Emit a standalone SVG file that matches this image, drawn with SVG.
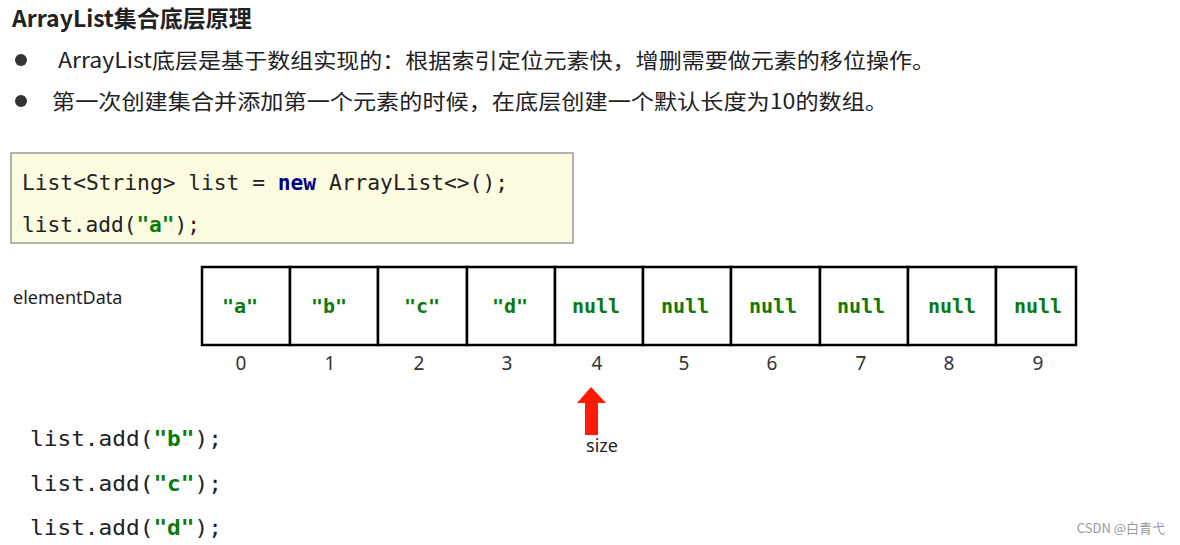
<svg xmlns="http://www.w3.org/2000/svg" width="1180" height="545" viewBox="0 0 1180 545">
<style>
.t{font-family:"Noto Sans CJK SC","Noto Sans",sans-serif;fill:#222}
.m{font-family:"DejaVu Sans Mono","Liberation Mono",monospace;font-size:21px;fill:#222}
.s{fill:#0a7a0a;font-weight:bold}
.k{fill:#000080;font-weight:bold}
.cell{fill:#fff;stroke:#000;stroke-width:2.5}
.v{font-family:"DejaVu Sans Mono","Liberation Mono",monospace;font-size:20px;font-weight:bold;fill:#0a7a0a;text-anchor:middle}
.i{font-family:"Noto Sans","DejaVu Sans",sans-serif;font-size:19px;fill:#333;text-anchor:middle}
</style>
<rect width="1180" height="545" fill="#fff"/>
<g id="title"><text class="t" x="12" y="27" font-size="23" font-weight="bold">ArrayList集合底层原理</text></g>
<g id="bullets">
<circle cx="21" cy="60" r="6" fill="#333"/>
<text class="t" x="58" y="68" font-size="21" textLength="877" lengthAdjust="spacingAndGlyphs">ArrayList底层是基于数组实现的：根据索引定位元素快，增删需要做元素的移位操作。</text>
<circle cx="21" cy="101" r="6" fill="#333"/>
<text class="t" x="52" y="109" font-size="21" textLength="836" lengthAdjust="spacingAndGlyphs">第一次创建集合并添加第一个元素的时候，在底层创建一个默认长度为10的数组。</text>
</g>
<g id="code">
<rect x="11" y="153" width="562" height="90" fill="#fdfbe0" stroke="#999" stroke-width="1.5"/>
<text class="m" x="22" y="190" textLength="486" lengthAdjust="spacingAndGlyphs">List&lt;String&gt; list = <tspan class="k">new</tspan> ArrayList&lt;&gt;();</text>
<text class="m" x="22" y="232" textLength="178" lengthAdjust="spacingAndGlyphs">list.add(<tspan class="s">"a"</tspan>);</text>
</g>
<g id="label"><text x="13" y="304" font-family="Noto Sans,sans-serif" font-size="18" fill="#222">elementData</text></g>
<g id="array">
<rect class="cell" x="202" y="267" width="88" height="78"/>
<rect class="cell" x="290" y="267" width="88" height="78"/>
<rect class="cell" x="378" y="267" width="89" height="78"/>
<rect class="cell" x="467" y="267" width="88" height="78"/>
<rect class="cell" x="555" y="267" width="88" height="78"/>
<rect class="cell" x="643" y="267" width="88" height="78"/>
<rect class="cell" x="731" y="267" width="89" height="78"/>
<rect class="cell" x="820" y="267" width="88" height="78"/>
<rect class="cell" x="908" y="267" width="88" height="78"/>
<rect class="cell" x="996" y="267" width="80" height="78"/>
<text class="v" x="240" y="313">"a"</text>
<text class="v" x="329" y="313">"b"</text>
<text class="v" x="422" y="313">"c"</text>
<text class="v" x="510" y="313">"d"</text>
<text class="v" x="596" y="313">null</text>
<text class="v" x="685" y="313">null</text>
<text class="v" x="773" y="313">null</text>
<text class="v" x="861" y="313">null</text>
<text class="v" x="952" y="313">null</text>
<text class="v" x="1038" y="313">null</text>
<text class="i" x="241" y="370">0</text>
<text class="i" x="330" y="370">1</text>
<text class="i" x="419" y="370">2</text>
<text class="i" x="507" y="370">3</text>
<text class="i" x="597" y="370">4</text>
<text class="i" x="684" y="370">5</text>
<text class="i" x="772" y="370">6</text>
<text class="i" x="861" y="370">7</text>
<text class="i" x="949" y="370">8</text>
<text class="i" x="1038" y="370">9</text>
</g>
<g id="size">
<polygon points="591,387 606,403 598,403 598,435 585,435 585,403 577,403" fill="#ff1a00"/>
<text x="602" y="452" font-family="Noto Sans,sans-serif" font-size="18" fill="#222" text-anchor="middle">size</text>
</g>
<g id="adds">
<text class="m" x="30" y="446" textLength="192" lengthAdjust="spacingAndGlyphs">list.add(<tspan class="s">"b"</tspan>);</text>
<text class="m" x="30" y="491" textLength="192" lengthAdjust="spacingAndGlyphs">list.add(<tspan class="s">"c"</tspan>);</text>
<text class="m" x="30" y="535" textLength="192" lengthAdjust="spacingAndGlyphs">list.add(<tspan class="s">"d"</tspan>);</text>
</g>
<text x="1165" y="533" font-family="Noto Sans CJK SC,sans-serif" font-size="13" fill="#999" text-anchor="end">CSDN @白青弋</text>
</svg>
